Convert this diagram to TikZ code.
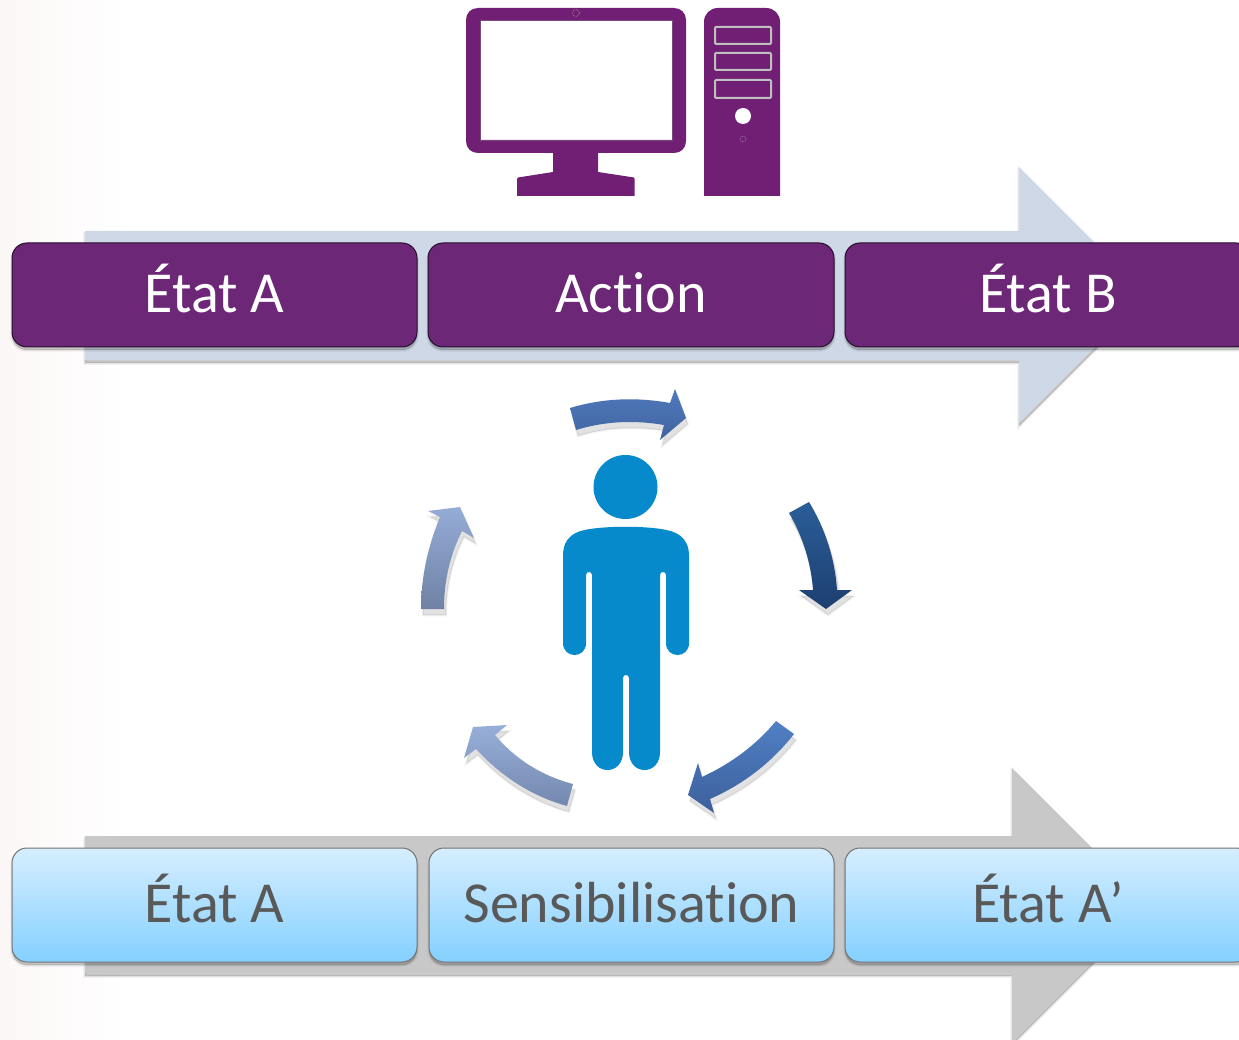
\documentclass[tikz,border=0pt]{standalone}
\usepackage{fontspec}
\setmainfont{Carlito}[Ligatures=CommonOff]
\definecolor{purp}{HTML}{6D2777}
\definecolor{icon}{HTML}{701F75}
\definecolor{person}{HTML}{068ACB}
\definecolor{bartop}{HTML}{CFD8E7}
\definecolor{barbot}{HTML}{C8C8C8}
\definecolor{boxtop}{HTML}{D6EEFF}
\definecolor{boxbot}{HTML}{84D0FF}
\definecolor{textgray}{HTML}{595959}
\definecolor{pinkish}{HTML}{FCF7F7}
\definecolor{cAa}{HTML}{5079BC}\definecolor{cAb}{HTML}{4064A0}
\definecolor{cBa}{HTML}{2A5E98}\definecolor{cBb}{HTML}{1E3F70}
\definecolor{cCa}{HTML}{5080C4}\definecolor{cCb}{HTML}{3D5F9C}
\definecolor{cDa}{HTML}{97AFD8}\definecolor{cDb}{HTML}{7488AE}
\definecolor{cEa}{HTML}{95ACD6}\definecolor{cEb}{HTML}{6F82A5}
\tikzset{
  softshadow/.style={
    preaction={draw=black,line width=4pt,opacity=.04,fill=black,fill opacity=.04,transform canvas={yshift=-3pt}},
    preaction={draw=black,line width=2pt,opacity=.06,fill=black,fill opacity=.06,transform canvas={yshift=-3pt}},
    preaction={fill=black,fill opacity=.10,transform canvas={yshift=-3pt}}},
  arrowshadow/.style={
    preaction={draw=black,line width=3pt,opacity=.025,fill=black,fill opacity=.025,transform canvas={xshift=2pt,yshift=-6pt}},
    preaction={draw=black,line width=1.5pt,opacity=.04,fill=black,fill opacity=.04,transform canvas={xshift=2pt,yshift=-6pt}},
    preaction={fill=black,fill opacity=.05,transform canvas={xshift=2pt,yshift=-6pt}}},
  boxbase/.style={rectangle,rounded corners=15pt,inner sep=0pt,align=center,
    font=\fontsize{58}{60}\selectfont,text depth=0pt,softshadow},
  purplebox/.style={boxbase,text height=35pt,draw=black!65!purp,line width=1pt,fill=purp,text=white,minimum height=104pt},
  bluebox/.style={boxbase,text height=34pt,draw=black!55,line width=1pt,top color=boxtop,bottom color=boxbot,text=textgray,minimum height=114pt},
  cyc/.style={arrowshadow,draw=none},
}
\begin{document}
\begin{tikzpicture}[x=1pt,y=-1pt]
\useasboundingbox (0,0) rectangle (1239,1040);
\clip (0,0) rectangle (1239,1040);
\fill[white] (0,0) rectangle (1239,1040);
\shade[left color=pinkish,right color=white] (0,0) rectangle (130,1040);
% large arrows
\fill[bartop,softshadow] (85,231) -- (1019,231) -- (1019,167) -- (1147,295) -- (1019,423) -- (1019,360) -- (85,360) -- cycle;
\fill[barbot,softshadow] (85,836) -- (1012,836) -- (1012,768) -- (1149,905) -- (1012,1042) -- (1012,973) -- (85,973) -- cycle;
% boxes
\node[purplebox,minimum width=405pt] (a1) at (214.5,295) {État A};
\node[purplebox,minimum width=406pt] (act) at (631,295) {Action};
\node[purplebox,minimum width=406pt] (b1) at (1048,295) {État B};
\node[bluebox,minimum width=405pt] (a2) at (214.5,905) {État A};
\node[bluebox,minimum width=405pt] (sens) at (631.5,905) {Sensibilisation};
\node[bluebox,minimum width=406pt] (a3) at (1048,905) {État A’};
% monitor
\fill[icon,even odd rule] (478,8) -- (674,8) .. controls (681,8) and (686,13) .. (686,20) -- (686,141) .. controls (686,148) and (681,153) .. (674,153) -- (478,153) .. controls (471,153) and (466,148) .. (466,141) -- (466,20) .. controls (466,13) and (471,8) .. (478,8) -- cycle
  (480,20) -- (480,140) -- (672,140) -- (672,20) -- cycle;
\draw[icon!55!gray,line width=.6pt] (480,20) rectangle (672,140);
\fill[icon] (553,150) -- (598,150) -- (598,172) -- (634,177.5) .. controls (634.5,178) .. (634.5,179) -- (634.5,196) -- (517,196) -- (517,179) .. controls (517,178) .. (518,177.5) -- (553,172) -- cycle;
\draw[gray!70,densely dotted,line width=.6pt] (576,13) circle[radius=3.5pt];
% tower
\fill[icon] (704,196) -- (704,22) .. controls (704,14) and (710,8) .. (718,8) -- (766,8) .. controls (774,8) and (780,14) .. (780,22) -- (780,196) -- cycle;
\draw[black!25,line width=2pt,rounded corners=1pt] (715,27) rectangle (771,44);
\draw[black!25,line width=2pt,rounded corners=1pt] (715,53) rectangle (771,70);
\draw[black!25,line width=2pt,rounded corners=1pt] (715,80) rectangle (771,98);
\fill[white] (743,116) circle[radius=8pt];
\draw[gray!70,densely dotted,line width=.6pt] (743,139) circle[radius=3pt];
% person
\fill[person] (625.5,487) circle[radius=32pt];
\fill[person] (563,556) .. controls (563,536) and (576,531) .. (590,529)
  .. controls (610,526) and (641,526) .. (661,529)
  .. controls (675,531) and (689,536) .. (689,556)
  -- (689,643) .. controls (689,659) and (666,659) .. (666,643)
  -- (666,575) .. controls (666,571) and (660,571) .. (660,575)
  -- (660,752) .. controls (660,776) and (629,776) .. (629,752)
  -- (629,678) .. controls (629,674) and (623,674) .. (623,678)
  -- (623,752) .. controls (623,776) and (592,776) .. (592,752)
  -- (592,575) .. controls (592,571) and (586,571) .. (586,575)
  -- (586,643) .. controls (586,659) and (563,659) .. (563,643) -- cycle;
% cycle arrows
\path[cyc,top color=cAa,bottom color=cAb]
  (570,408) .. controls (603,398) and (637,397) .. (670,403) -- (675,389) -- (686,418) -- (660,440) -- (664,425)
  .. controls (635,420) and (605,421) .. (576,430) -- cycle;
\path[cyc,top color=cBa,bottom color=cBb]
  (789,513) -- (809,502) .. controls (826,530) and (835,560) .. (837,590) -- (852,590) -- (826,609) -- (799,590) -- (813,590)
  .. controls (811,563) and (803,537) .. (789,513) -- cycle;
\path[cyc,top color=cCa,bottom color=cCb]
  (794,734) -- (776,721) .. controls (756,745) and (732,763) .. (702,777) -- (698,763) -- (688,795) -- (714,813) -- (710,799)
  .. controls (744,784) and (772,762) .. (794,734) -- cycle;
\path[cyc,top color=cDa,bottom color=cDb]
  (573,784) -- (567,806) .. controls (531,796) and (501,776) .. (476,749) -- (464,758) -- (473,727) -- (507,725) -- (495,735)
  .. controls (515,759) and (542,776) .. (573,784) -- cycle;
\path[cyc,top color=cEa,bottom color=cEb]
  (444,609) -- (421,609) .. controls (421,577) and (428,546) .. (440,517) -- (428,511) -- (460,507) -- (474,538) -- (462,531)
  .. controls (450,555) and (444,581) .. (444,609) -- cycle;
\end{tikzpicture}
\end{document}
